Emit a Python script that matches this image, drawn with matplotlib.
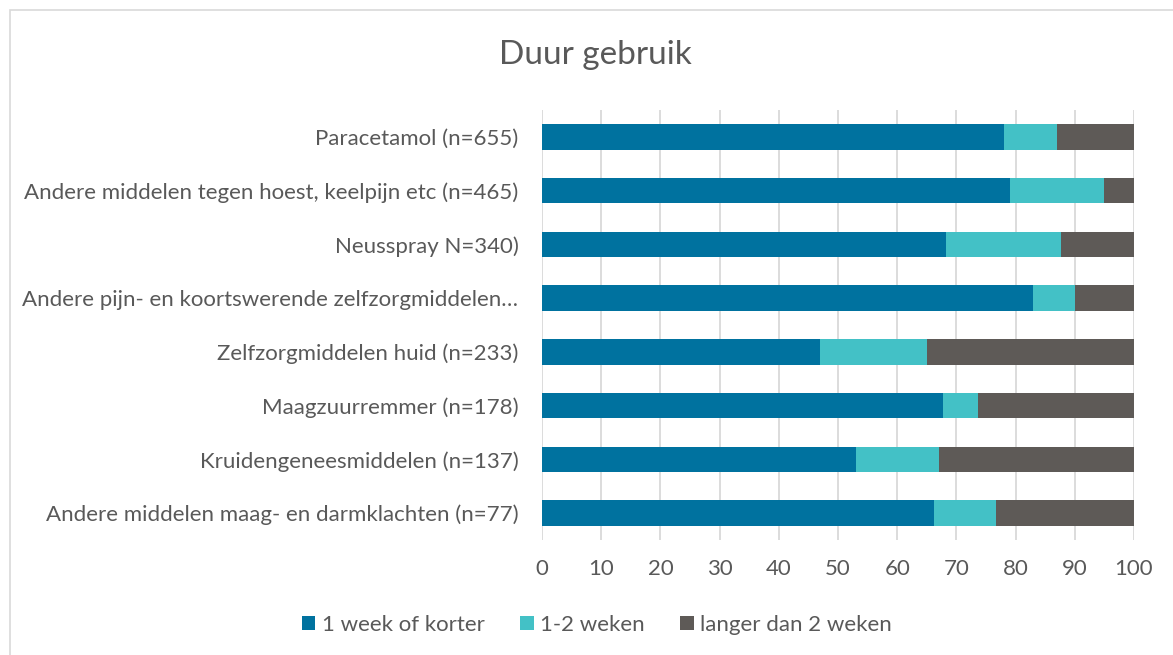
import matplotlib
matplotlib.use("Agg")
import matplotlib.pyplot as plt
from matplotlib.patches import Rectangle, Patch
import numpy as np

categories = [
    "Paracetamol (n=655)",
    "Andere middelen tegen hoest, keelpijn etc (n=465)",
    "Neusspray N=340)",
    "Andere pijn- en koortswerende zelfzorgmiddelen…",
    "Zelfzorgmiddelen huid (n=233)",
    "Maagzuurremmer (n=178)",
    "Kruidengeneesmiddelen (n=137)",
    "Andere middelen maag- en darmklachten (n=77)",
]
week_of_korter = [78.0, 79.0, 68.2, 83.0, 47.0, 67.8, 53.0, 66.2]
een_twee_weken = [9.0, 16.0, 19.4, 7.0, 18.0, 5.8, 14.0, 10.5]
langer = [13.0, 5.0, 12.4, 10.0, 35.0, 26.4, 33.0, 23.3]
series_names = ["1 week of korter", "1-2 weken", "langer dan 2 weken"]
xticks = [0, 10, 20, 30, 40, 50, 60, 70, 80, 90, 100]

colors = ["#00729F", "#43C1C6", "#5E5A57"]
text_color = "#595959"
plt.rcParams["font.family"] = ["Lato", "DejaVu Sans"]

W, H = 1173, 655
fig = plt.figure(figsize=(W / 100, H / 100), dpi=100)
fig.patches.append(Rectangle((10 / W, -0.01), 1.0, 1 - 10 / H + 0.01,
                             transform=fig.transFigure, fill=False,
                             edgecolor="#D9D9D9", linewidth=1.2))

ax = fig.add_axes([542 / W, 1 - 540 / H, (1134 - 542) / W, (540 - 110) / H])
y = np.arange(len(categories))
left = np.zeros(len(categories))
for vals, c, name in zip([week_of_korter, een_twee_weken, langer], colors, series_names):
    ax.barh(y, vals, left=left, height=0.47, color=c, label=name, zorder=3)
    left += np.array(vals)

ax.set_xlim(0, 100)
ax.set_ylim(len(categories) - 0.5, -0.5)
ax.set_yticks(y)
ax.set_yticklabels(categories, fontsize=16, color=text_color)
ax.set_xticks(xticks)
ax.set_xticklabels([str(t) for t in xticks], fontsize=16, color=text_color)
ax.tick_params(axis="both", length=0)
ax.tick_params(axis="y", pad=17)
ax.tick_params(axis="x", pad=14)
ax.grid(axis="x", color="#D9D9D9", linewidth=1.3, zorder=0)
for s in ax.spines.values():
    s.set_visible(False)

fig.text(595 / W, 1 - 55 / H, "Duur gebruik", ha="center", va="center",
         fontsize=24, color=text_color)

handles = [Patch(facecolor=c, label=n) for c, n in zip(colors, series_names)]
fig.legend(handles=handles, loc="center", bbox_to_anchor=(597 / W, 1 - 625 / H),
           ncol=3, frameon=False, fontsize=16, handlelength=0.6, handleheight=0.6,
           handletextpad=0.3, columnspacing=1.6, labelcolor=text_color)

fig.savefig("out.png", dpi=100)
